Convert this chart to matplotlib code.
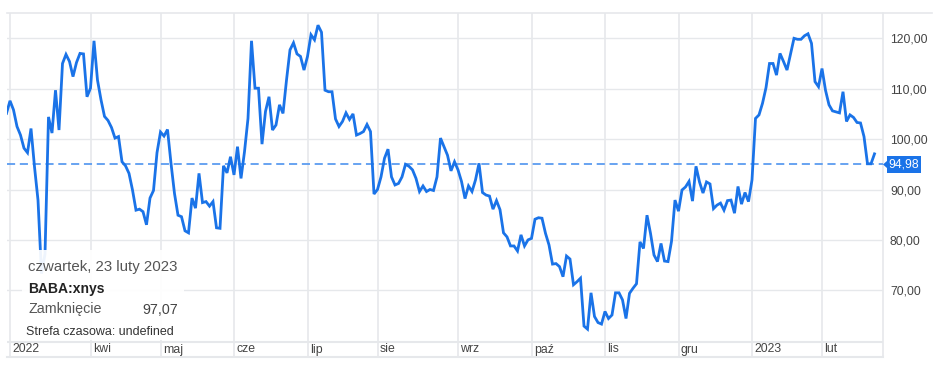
import matplotlib
matplotlib.use("Agg")
import matplotlib.pyplot as plt
from matplotlib.lines import Line2D
from matplotlib.patches import Rectangle, Polygon
import numpy as np
import pandas as pd

plt.rcParams['font.family'] = ['Liberation Sans', 'DejaVu Sans']

# ---- data -------------------------------------------------------------
start_date = "2022-02-28"
end_date = "2023-02-23"
market_holidays = ["2022-04-15", "2022-05-30", "2022-06-20", "2022-07-04",
                   "2022-09-05", "2022-11-24", "2022-12-26", "2023-01-02",
                   "2023-01-16", "2023-02-20"]

close_prices = [
    105.1, 107.6, 105.8, 102.5, 100.8, 98.2, 97.3, 102.1, 94.5, 87.9,
    73.3, 77.2, 104.4, 101.2, 109.7, 101.8, 115.0, 116.8, 115.4, 112.4,
    115.2, 117.0, 116.9, 108.4, 110.1, 119.5, 111.7, 107.8, 104.5, 103.7,
    102.3, 100.2, 100.5, 95.5, 94.7, 93.2, 89.9, 85.9, 86.1, 85.6,
    83.0, 88.3, 89.8, 97.3, 101.4, 100.6, 101.9, 95.2, 89.2, 84.9,
    84.6, 81.8, 81.4, 88.3, 86.3, 93.2, 87.4, 87.6, 86.7, 87.6,
    82.4, 82.3, 94.7, 93.3, 96.5, 92.9, 98.5, 92.2, 97.5, 104.1,
    119.5, 110.1, 110.1, 99.0, 105.5, 108.4, 101.8, 102.8, 106.8, 105.1,
    111.7, 117.7, 119.1, 116.9, 116.4, 113.7, 116.4, 120.7, 119.7, 122.6,
    121.2, 109.7, 109.4, 109.4, 104.0, 102.5, 103.5, 105.2, 103.9, 105.0,
    100.8, 101.1, 101.5, 102.9, 101.5, 89.1, 90.0, 92.5, 96.2, 98.0,
    92.5, 90.9, 91.2, 92.5, 95.0, 94.6, 93.9, 92.2, 89.6, 90.7,
    89.6, 90.0, 89.8, 92.5, 100.2, 98.5, 96.8, 93.7, 95.5, 93.9,
    91.6, 88.2, 90.7, 89.6, 91.9, 95.2, 89.4, 88.9, 88.7, 86.1,
    87.8, 86.0, 81.4, 80.6, 78.8, 78.8, 77.8, 81.0, 78.8, 80.0,
    80.3, 84.1, 84.4, 84.3, 81.3, 79.0, 75.2, 75.3, 74.7, 72.7,
    76.8, 76.2, 71.1, 71.7, 72.4, 62.9, 62.3, 69.5, 64.8, 63.6,
    63.3, 65.8, 64.4, 65.1, 69.5, 69.5, 68.1, 64.4, 69.4, 70.4,
    71.3, 79.6, 78.3, 84.9, 81.3, 77.0, 75.7, 79.3, 75.8, 75.7,
    79.7, 87.9, 85.7, 89.9, 90.5, 91.6, 87.7, 94.6, 91.5, 89.3,
    91.5, 91.1, 86.2, 86.9, 87.3, 85.9, 87.8, 87.9, 85.3, 90.6,
    87.1, 89.4, 87.6, 91.9, 104.1, 104.8, 107.1, 110.2, 115.0, 115.0,
    112.7, 117.0, 115.4, 113.7, 116.8, 120.0, 119.8, 119.8, 120.5, 120.9,
    119.0, 111.4, 110.4, 114.0, 109.7, 106.8, 105.6, 105.4, 105.2, 109.4,
    103.5, 104.8, 104.3, 103.3, 103.2, 100.5, 95.1, 95.1, 97.07,
]

month_labels = ["2022", "kwi", "maj", "cze", "lip", "sie", "wrz", "paź",
                "lis", "gru", "2023", "lut"]
y_ticks = [70, 80, 90, 100, 110, 120]
last_price = 94.98

tooltip_date = "czwartek, 23 luty 2023"
tooltip_symbol = "BABA:xnys"
tooltip_field = "Zamknięcie"
tooltip_value = "97,07"
tooltip_tz = "Strefa czasowa: undefined"

# ---- build trading day index ------------------------------------------
cbd = pd.offsets.CustomBusinessDay(holidays=pd.to_datetime(market_holidays))
dates = pd.date_range(start_date, end_date, freq=cbd)
n = min(len(dates), len(close_prices))
dates = dates[:n]
vals = np.array(close_prices[:n])
idx = np.arange(n)

# first trading day of each month (from March 2022)
period = dates.to_period("M")
month_first = [i for i in range(1, n) if period[i] != period[i - 1]]

# ---- figure -----------------------------------------------------------
W, H = 938, 369
fig = plt.figure(figsize=(W / 100, H / 100), dpi=100)
fig.patch.set_facecolor("white")

def fx(x):
    return x / W

def fy(y):
    return 1 - y / H

ax_left, ax_right, ax_top, ax_bottom = 7, 883, 13, 357
ax = fig.add_axes([fx(ax_left), fy(ax_bottom), fx(ax_right - ax_left),
                   (ax_bottom - ax_top) / H])

px_per_day = 3.5
x0_px = 6.5
ax.set_xlim((ax_left - x0_px) / px_per_day, (ax_right - x0_px) / px_per_day)
y120, ppu = 38.3, 5.04
ymax = 120 + (y120 - ax_top) / ppu
ymin = 120 - (ax_bottom - y120) / ppu
ax.set_ylim(ymin, ymax)

grid_c = "#e6e8eb"
for v in y_ticks:
    ax.axhline(v, color=grid_c, lw=1.0, zorder=1)
plot_bottom_val = 120 - (341.7 - y120) / ppu
ax.axhline(plot_bottom_val, color=grid_c, lw=1.5, zorder=1)
for i in month_first:
    ax.axvline(i, color=grid_c, lw=1.2, zorder=1)

for s in ["top", "left"]:
    ax.spines[s].set_visible(False)
ax.spines["bottom"].set_color(grid_c)
ax.spines["bottom"].set_linewidth(1.5)
ax.spines["right"].set_color(grid_c)
ax.spines["right"].set_linewidth(1.2)

ax.set_xticks([])
ax.yaxis.tick_right()
ax.set_yticks(y_ticks)
ax.set_yticklabels([f"{v:.2f}".replace(".", ",") for v in y_ticks])
ax.tick_params(axis="y", length=0, pad=5, labelsize=8.7, labelcolor="#444444")

# top border extends beyond axes
fig.add_artist(Line2D([fx(7), fx(932)], [fy(13), fy(13)], color=grid_c, lw=1.2))

# month labels
label_y = 120 - (349.5 - y120) / ppu
for k, i in enumerate(month_first):
    if k < len(month_labels):
        ax.text(i + 0.7, label_y, month_labels[k], ha="left", va="center",
                fontsize=8.8, color="#444444", zorder=3)

# price line
ax.plot(idx, vals, color="#1a73e8", lw=2.0, zorder=4, solid_joinstyle="miter")

# dashed last-price line
ax.axhline(last_price, color="#5c9cf0", lw=1.3, dashes=(4.5, 2.6), zorder=3)

# last price tag
fig.add_artist(Rectangle((fx(887), fy(173)), fx(921) - fx(887), fy(156) - fy(173),
                         transform=fig.transFigure, facecolor="#1a73e8",
                         edgecolor="none", zorder=10))
fig.add_artist(Polygon([[fx(883), fy(164.5)], [fx(887.5), fy(160.5)], [fx(887.5), fy(168.5)]],
                       closed=True, transform=fig.transFigure, facecolor="#1a73e8",
                       edgecolor="none", zorder=10))
fig.text(fx(904), fy(164.8), f"{last_price:.2f}".replace(".", ","), ha="center",
         va="center", fontsize=8.8, color="white", zorder=11)

# tooltip
fig.add_artist(Rectangle((fx(22), fy(340)), fx(184) - fx(22), fy(250) - fy(340),
                         transform=fig.transFigure, facecolor="white",
                         edgecolor="none", alpha=0.93, zorder=8))
fig.text(fx(28), fy(266.5), tooltip_date, ha="left", va="center", fontsize=10.8,
         color="#555555", zorder=9)
fig.text(fx(28), fy(288.5), tooltip_symbol, ha="left", va="center", fontsize=10,
         color="#222222", fontweight="bold", zorder=9)
fig.text(fx(28), fy(309.5), tooltip_field, ha="left", va="center", fontsize=10.3,
         color="#555555", zorder=9)
fig.text(fx(178), fy(309.5), tooltip_value, ha="right", va="center", fontsize=10.3,
         color="#444444", zorder=9)
fig.text(fx(26), fy(332), tooltip_tz, ha="left", va="center", fontsize=9,
         color="#333333", zorder=9)

fig.savefig("out.png", dpi=100, facecolor="white")
